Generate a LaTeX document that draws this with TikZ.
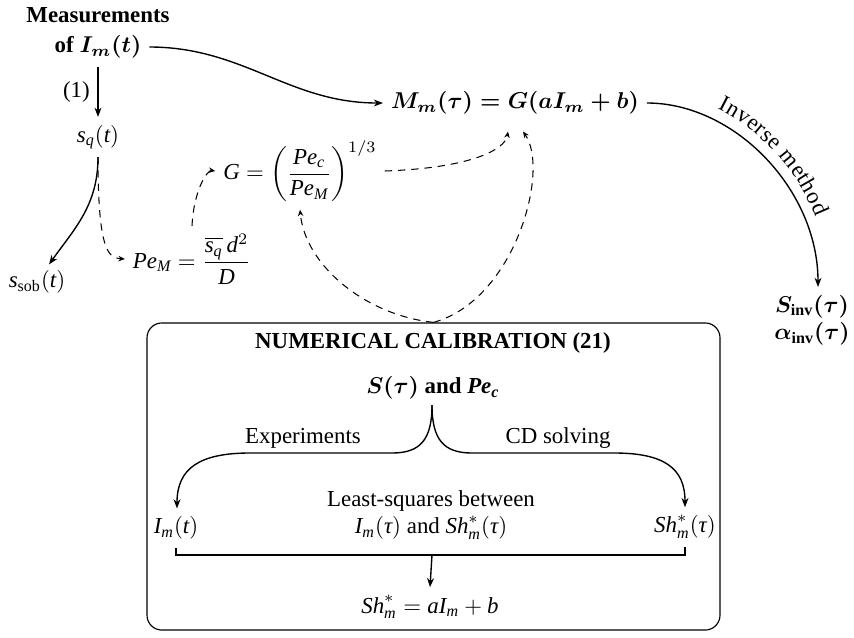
\documentclass[tikz,border=0pt]{standalone}
\usepackage{amsmath}
\usepackage{fontspec}
\setmainfont{Liberation Serif}
\newcommand\vi[1]{\mathit{#1}}
\newcommand\itau{\textit{τ}}
\usetikzlibrary{calc,decorations.text,arrows.meta}
\begin{document}
\begin{tikzpicture}[x=0.437pt,y=-0.437pt,
  every node/.style={font=\fontsize{10}{12}\selectfont},
  solidarr/.style={-{Stealth[length=4pt,width=3pt,inset=1.2pt]}, line width=0.6pt},
  dasharr/.style={-{Stealth[length=2.8pt,width=2.4pt]}, dash pattern=on 3.2pt off 2.6pt, line width=0.45pt},
  bracketline/.style={line width=0.5pt},
  calbox/.style={draw, rounded corners=6.5pt, line width=0.5pt, inner sep=0pt}]
\useasboundingbox (0,0) rectangle (854,637);

% top-left chain
\node (meas1) at (98,15) {\textbf{Measurements}};
\node (meas2) at (98,47) {\textbf{of} {\boldmath$I_m(t)$}};
\node (sq) at (98,137) {$\vi{s}_{\vi{q}}(\vi{t})$};
\node (ssob) at (37,282) {$\vi{s}_{\mathrm{sob}}(\vi{t})$};
\node (PeM) at (192,259) {$\vi{Pe}_{\vi{M}} = \dfrac{\overline{\vi{s}_{\vi{q}}}\,\vi{d}^2}{\vi{D}}$};
\node (Gf) at (300,171) {$\vi{G} = \left(\dfrac{\vi{Pe}_{\vi{c}}}{\vi{Pe}_{\vi{M}}}\right)^{1/3}$};
\node (Mm) at (515,103) {{\boldmath$M_m(\tau) = G(aI_m + b)$}};
\node[anchor=north, align=center] (Sinv) at (812,287) {{\boldmath$S_{\textbf{inv}}(\tau)$}\\{\boldmath$\alpha_{\textbf{inv}}(\tau)$}};

% calibration box
\node[calbox, minimum width=250.4pt, minimum height=134.2pt] (box) at (433.5,476.5) {};
\node (head) at (433,343) {\textbf{NUMERICAL CALIBRATION (21)}};
\node (src) at (433,388) {{\boldmath$S(\tau)$} \textbf{and \textit{Pe}\textsubscript{\textit{c}}}};
\coordinate (cusp) at (432,405);
\node (exp) at (303,438) {Experiments};
\node (cds) at (558,438) {CD solving};
\node (Im) at (176,528) {$\vi{I}_{\vi{m}}(\vi{t})$};
\node (Sh) at (685,527) {$\vi{Sh}^*_{\vi{m}}(\itau)$};
\node[align=center] (ls) at (431,515) {Least-squares between\\$\vi{I}_{\vi{m}}(\itau)$ and $\vi{Sh}^*_{\vi{m}}(\itau)$};
\coordinate (brk) at (432,555);
\node (res) at (430,607) {$\vi{Sh}^*_{\vi{m}} = \vi{aI}_{\vi{m}} + \vi{b}$};

% connectors
\draw[solidarr] (meas2.south) -- node[left] {(1)} (sq.north);
\draw[solidarr] (meas2.east) to[out=0,in=180] (Mm.west);
\draw[solidarr] (sq.south) .. controls (98,205) and (75,228) .. ($(ssob.north)+(12,2)$);
\draw[dasharr] (sq.south) .. controls (98,250) and (108,258) .. (PeM.west);
\draw[dasharr] (PeM.north) .. controls (194,188) and (208,170) .. (Gf.west);
\draw[dasharr] (Gf.east) .. controls (470,168) and (505,150) .. ($(Mm.south)+(-7,9)$);
\draw[dasharr] (box.north) .. controls (365,315) and (305,265) .. (Gf.south);
\draw[dasharr] (box.north) .. controls (515,300) and (550,170) .. ($(Mm.south)+(8,9)$);
\draw[solidarr] (Mm.east) .. controls (735,103) and (818,190) .. ($(Sinv.north)+(6,0)$);
\path[decorate, decoration={text along path, text={Inverse method}, text align=center, raise=5pt}]
  (Mm.east) .. controls (735,103) and (818,190) .. ($(Sinv.north)+(6,0)$);

\draw[solidarr] (cusp) .. controls (432,440) and (420,453) .. (392,453) -- (250,453) .. controls (200,453) and (177,468) .. ($(Im.north)+(1,0)$);
\draw[solidarr] (cusp) .. controls (432,440) and (444,453) .. (472,453) -- (614,453) .. controls (664,453) and (685,468) .. (Sh.north);
\draw[bracketline] (Im.south) |- (brk) -| (Sh.south);
\draw[solidarr] (brk) -- (res.north);
\end{tikzpicture}
\end{document}
